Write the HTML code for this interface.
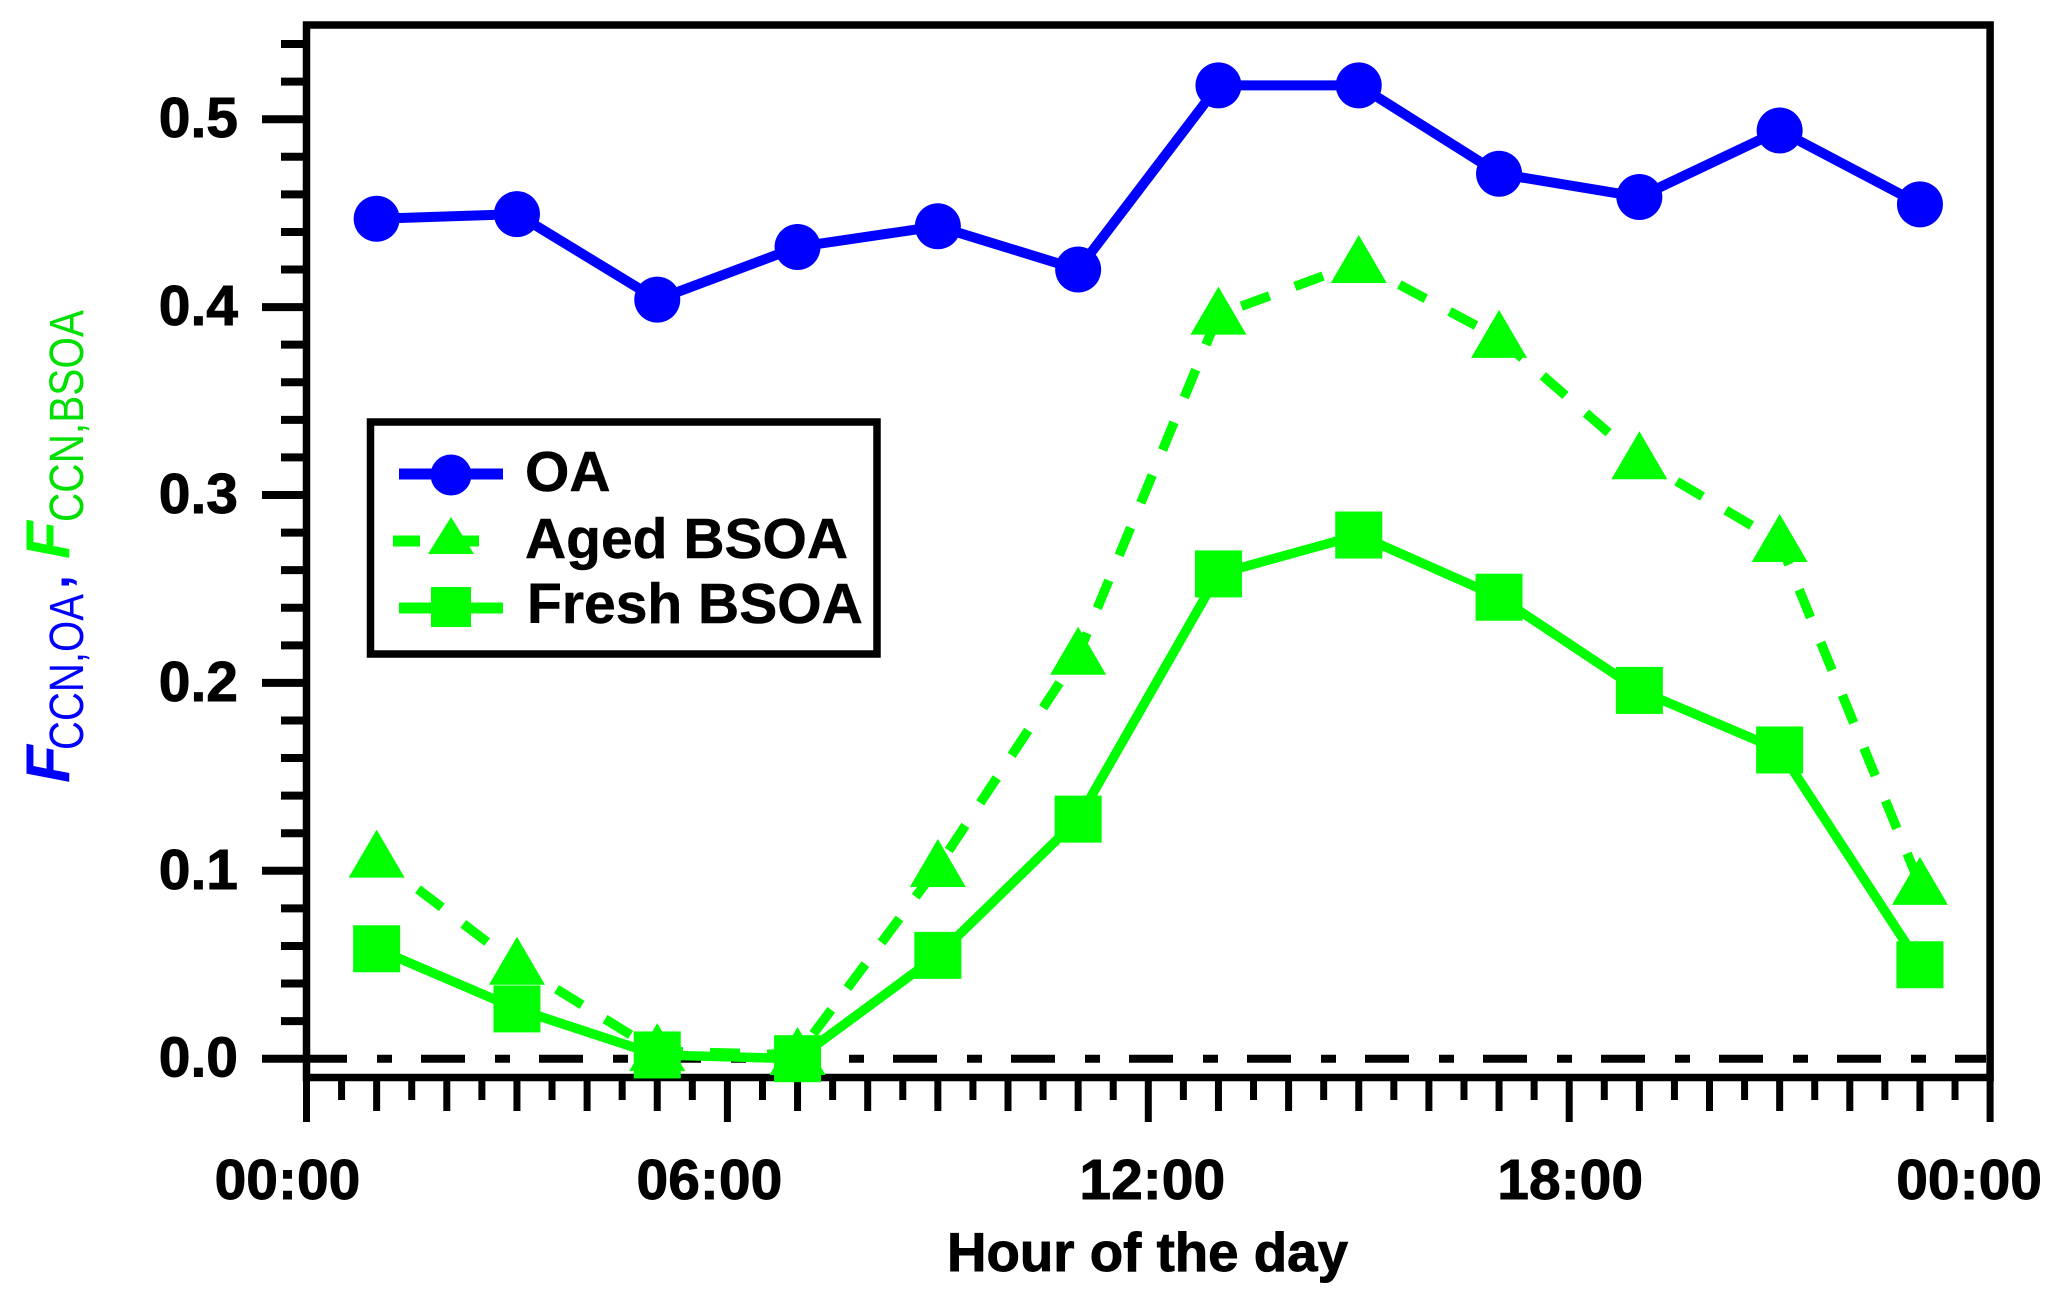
<!DOCTYPE html>
<html lang="en">
<head>
<meta charset="utf-8">
<title>Hour of the day chart</title>
<style>
  html, body { margin: 0; padding: 0; background: #fff; }
  svg { display: block; }
  text { font-family: "Liberation Sans", Arial, sans-serif; font-kerning: none; }
  .tick-label { font-size: 57px; font-weight: 700; fill: #000; stroke: #000; stroke-width: 0.9px; }
  .legend-label { font-size: 57px; font-weight: 700; fill: #000; stroke: #000; stroke-width: 0.5px; }
</style>
</head>
<body>
<svg id="chart" xmlns="http://www.w3.org/2000/svg" width="2067" height="1304" viewBox="0 0 2067 1304">
  <rect x="0" y="0" width="2067" height="1304" fill="#fff"/>
  <g id="axes"></g>
  <g id="series"></g>

  <g fill="#0000ff">
    <text transform="translate(69 783) rotate(-90)" font-size="62" font-weight="700" font-style="italic">F</text>
    <text transform="translate(83 750) rotate(-90)" font-size="48" textLength="156" lengthAdjust="spacingAndGlyphs">CCN,OA</text>
    <text transform="translate(69 589) rotate(-90)" font-size="50" font-weight="700">,</text>
    <text transform="translate(69 559) rotate(-90)" font-size="62" font-weight="700" font-style="italic" fill="#00ff00">F</text>
    <text transform="translate(83 522) rotate(-90)" font-size="48" textLength="212" lengthAdjust="spacingAndGlyphs" fill="#00e000">CCN,BSOA</text>
  </g>

  <text x="947" y="1271" font-size="55" font-weight="700" textLength="401" lengthAdjust="spacingAndGlyphs" stroke="#000" stroke-width="0.9">Hour of the day</text>

  <g>
    <rect x="370.5" y="422" width="506.5" height="232" fill="#fff" stroke="#000" stroke-width="7.5"/>
    <g>
      <line x1="399" y1="474" x2="503" y2="474" stroke="#0000ff" stroke-width="11"/>
      <circle cx="451" cy="475" r="20.5" fill="#0000ff"/>
      <text class="legend-label" x="525" y="491">OA</text>
    </g>
    <g>
      <line x1="393" y1="541" x2="420" y2="541" stroke="#00ff00" stroke-width="11"/>
      <line x1="455" y1="541" x2="479" y2="541" stroke="#00ff00" stroke-width="11"/>
      <polygon points="451,517 474,554 428,554" fill="#00ff00"/>
      <text class="legend-label" x="525" y="558">Aged BSOA</text>
    </g>
    <g>
      <line x1="399" y1="608" x2="503" y2="608" stroke="#00ff00" stroke-width="11"/>
      <rect x="431" y="587" width="40" height="40" fill="#00ff00"/>
      <text class="legend-label" x="527" y="623">Fresh BSOA</text>
    </g>
  </g>
</svg>

<script>
const hours = [1, 3, 5, 7, 9, 11, 13, 15, 17, 19, 21, 23];
const oaValues = [0.447, 0.4495, 0.404, 0.432, 0.443, 0.420, 0.518, 0.518, 0.471, 0.4586, 0.494, 0.4547];
const agedValues = [0.107, 0.050, 0.004, 0.002, 0.102, 0.215, 0.396, 0.4235, 0.3836, 0.319, 0.275, 0.0925];
const freshValues = [0.0585, 0.0265, 0.002, 0.000, 0.055, 0.1275, 0.258, 0.2787, 0.2456, 0.196, 0.1643, 0.050];
const yTickLabels = ['0.0', '0.1', '0.2', '0.3', '0.4', '0.5'];
const yTickValues = [0, 0.1, 0.2, 0.3, 0.4, 0.5];
const xTickLabels = ['00:00', '06:00', '12:00', '18:00', '00:00'];
const xTickHours = [0, 6, 12, 18, 24];

const NS = 'http://www.w3.org/2000/svg';
const axesGroup = document.getElementById('axes');
const seriesGroup = document.getElementById('series');

function xScale(h) { return 306.5 + 70.15 * h; }
function yScale(v) { return 1058.7 - 1879 * v; }

function make(tag, attrs, parent) {
  const el = document.createElementNS(NS, tag);
  for (const k in attrs) el.setAttribute(k, attrs[k]);
  parent.appendChild(el);
  return el;
}

function drawAxes() {
  const frame = make('rect', { x: xScale(0), y: 25, width: xScale(24) - xScale(0), height: 1052.5, fill: 'none', stroke: '#000', 'stroke-width': 7.5 }, axesGroup);
  
  

  for (let i = 0; i <= 27; i++) {
    const v = i * 0.02;
    const major = i % 5 === 0;
    const t = make('line', { x1: major ? 262 : 281, x2: 306, y1: yScale(v), y2: yScale(v), stroke: '#000', 'stroke-width': 8 }, axesGroup);
    
    
  }

  for (let i = 0; i <= 48; i++) {
    const h = i * 0.5;
    const end = i % 12 === 0 ? 1122 : (i % 2 === 0 ? 1111 : 1100);
    const t = make('line', { x1: xScale(h), x2: xScale(h), y1: 1077, y2: end, stroke: '#000', 'stroke-width': 7 }, axesGroup);
    
    
  }

  yTickValues.forEach(function (v, i) {
    const label = make('text', { class: 'tick-label', x: 238, y: yScale(v) + 18, 'text-anchor': 'end' }, axesGroup);
    label.textContent = yTickLabels[i];
    
    
  });

  const labelNudge = [-19, -18, 4, 1, -21];
  xTickHours.forEach(function (h, i) {
    const label = make('text', { class: 'tick-label', x: xScale(h) + labelNudge[i], y: 1199, 'text-anchor': 'middle' }, axesGroup);
    label.textContent = xTickLabels[i];
    
    
  });

  const zero = make('line', { x1: 303, x2: 1986, y1: yScale(0), y2: yScale(0), stroke: '#000', 'stroke-width': 8, 'stroke-dasharray': '44 30 15 29' }, axesGroup);
  
  
}

function pointsOf(values) {
  return values.map(function (v, i) { return xScale(hours[i]) + ',' + yScale(v); }).join(' ');
}

function drawOa() {
  const line = make('polyline', { points: pointsOf(oaValues), fill: 'none', stroke: '#0000ff', 'stroke-width': 10 }, seriesGroup);
  
  
  oaValues.forEach(function (v, i) {
    const c = make('circle', { cx: xScale(hours[i]), cy: yScale(v), r: 23, fill: '#0000ff' }, seriesGroup);
    
    
  });
}

function drawAged() {
  const line = make('polyline', { points: pointsOf(agedValues), fill: 'none', stroke: '#00ff00', 'stroke-width': 9.5, 'stroke-dasharray': '30 27', 'stroke-dashoffset': 5 }, seriesGroup);
  
  
  agedValues.forEach(function (v, i) {
    const px = xScale(hours[i]);
    const py = yScale(v);
    const tri = make('polygon', { points: px + ',' + (py - 28) + ' ' + (px + 28) + ',' + (py + 20) + ' ' + (px - 28) + ',' + (py + 20), fill: '#00ff00' }, seriesGroup);
    
    
  });
}

function drawFresh() {
  const line = make('polyline', { points: pointsOf(freshValues), fill: 'none', stroke: '#00ff00', 'stroke-width': 9.5 }, seriesGroup);
  
  
  freshValues.forEach(function (v, i) {
    const sq = make('rect', { x: xScale(hours[i]) - 23.5, y: yScale(v) - 23.5, width: 47, height: 47, fill: '#00ff00' }, seriesGroup);
    
    
  });
}

drawAxes();
drawOa();
drawAged();
drawFresh();
</script>
</body>
</html>
